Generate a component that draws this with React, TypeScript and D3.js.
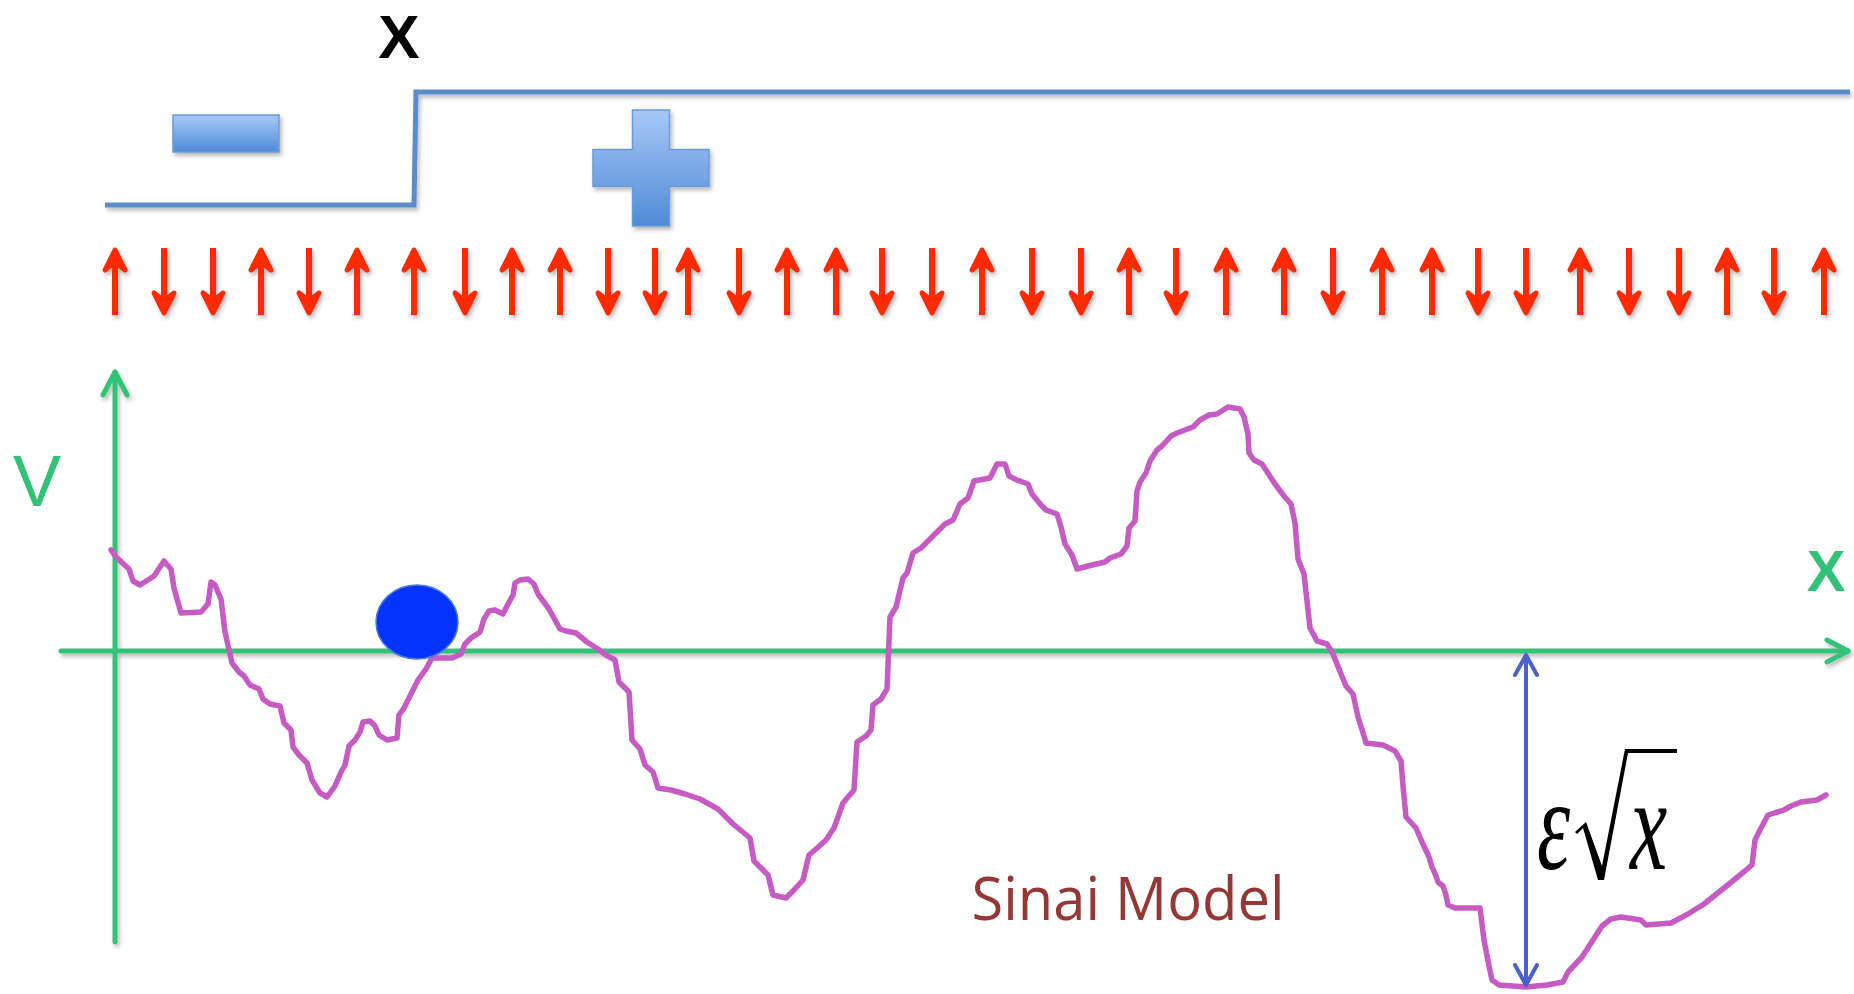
import React, { useEffect, useRef } from 'react';
import * as d3 from 'd3';

const width = 1854;
const height = 994;

// spin chain: site positions along x and spin (+1 up, -1 down)
const spinSites = [0, 49, 98, 146, 194, 242, 299, 350, 397, 445, 493, 540, 573, 624, 672, 721, 767, 817,
  867, 917, 966, 1014, 1061, 1111, 1169, 1218, 1267, 1317, 1363, 1411, 1465, 1514, 1564, 1612, 1659, 1709];
const spins = [1, -1, -1, 1, -1, 1, 1, -1, 1, 1, -1, -1, 1, -1, 1, 1, -1, -1,
  1, -1, -1, 1, -1, 1, 1, -1, 1, 1, -1, -1, 1, -1, -1, 1, -1, 1];

// magnetisation profile with a domain wall
const profileX = [-10, 299, 301, 1735];
const profileM = [-1, -1, 1, 1];

// Sinai random potential V(x)
const sinaiX = [-4, 1, 14, 18, 25, 39, 49, 56, 59, 66, 86, 93, 96, 100, 106, 110, 117, 124, 129, 135,
  144, 148, 155, 165, 169, 176, 178, 184, 192, 197, 205, 212, 220, 226, 230, 234, 240, 245, 248, 255,
  260, 264, 272, 282, 284, 289, 298, 303, 311, 317, 327, 337, 346, 350, 356, 365, 369, 374, 380, 388,
  392, 398, 400, 405, 413, 419, 423, 434, 445, 451, 461, 472, 483, 491, 500, 504, 514, 517, 525, 530,
  538, 543, 556, 570, 585, 603, 618, 635, 639, 645, 653, 658, 671, 679, 688, 694, 701, 711, 719, 728,
  739, 742, 751, 756, 758, 766, 772, 775, 781, 788, 792, 798, 806, 819, 830, 838, 845, 853, 859, 875,
  882, 890, 894, 902, 913, 917, 926, 931, 942, 946, 950, 957, 962, 973, 990, 995, 1006, 1012, 1014, 1020,
  1022, 1025, 1031, 1035, 1042, 1047, 1056, 1062, 1078, 1085, 1094, 1102, 1113, 1125, 1129, 1133, 1134, 1139, 1147, 1160,
  1169, 1176, 1180, 1183, 1189, 1192, 1195, 1202, 1212, 1218, 1224, 1231, 1238, 1243, 1249, 1251, 1268, 1280, 1286, 1288,
  1291, 1301, 1307, 1314, 1317, 1321, 1323, 1328, 1331, 1333, 1340, 1365, 1369, 1374, 1377, 1384, 1411, 1432, 1448, 1453,
  1467, 1478, 1487, 1496, 1506, 1526, 1531, 1556, 1573, 1589, 1619, 1637, 1640, 1646, 1653, 1669, 1676, 1686, 1702, 1711];
const sinaiV = [101, 94, 82, 70, 66, 75, 90, 82, 63, 38, 39, 47, 69, 66, 52, 19, -12, -21, -25, -34,
  -38, -48, -53, -55, -72, -79, -96, -104, -112, -129, -142, -146, -135, -121, -114, -95, -89, -81, -71, -70,
  -75, -84, -89, -87, -64, -57, -39, -29, -18, -7, -7, -7, -3, 7, 13, 19, 32, 40, 41, 37,
  45, 56, 68, 71, 72, 67, 57, 42, 22, 20, 18, 9, 2, -4, -9, -31, -41, -89, -98, -114,
  -121, -137, -139, -143, -148, -158, -173, -187, -210, -216, -224, -244, -247, -239, -229, -204, -198, -189, -177, -152,
  -139, -91, -85, -79, -54, -48, -38, 34, 44, 73, 78, 98, 103, 116, 127, 131, 147, 153, 170, 173,
  187, 187, 175, 171, 167, 157, 146, 141, 137, 124, 107, 96, 82, 85, 89, 93, 97, 105, 123, 130,
  160, 169, 178, 190, 201, 205, 215, 218, 224, 231, 236, 237, 244, 242, 234, 217, 198, 191, 187, 167,
  155, 147, 128, 92, 77, 50, 23, 10, 7, -3, -18, -35, -43, -66, -85, -92, -94, -100, -110, -135,
  -166, -177, -191, -206, -216, -225, -231, -235, -244, -254, -257, -257, -289, -315, -329, -334, -336, -334, -331, -321,
  -306, -289, -275, -268, -266, -269, -274, -272, -263, -253, -229, -214, -189, -177, -164, -159, -155, -151, -149, -144];

// particle sitting in the potential
const particleX = 302;
const particleV = 29;

const GREEN = '#31c278';
const RED = '#ff2a00';
const STEP_BLUE = '#5b8dc9';
const CURVE = '#c65bc3';
const EPS_BLUE = '#4b60c9';

const App = () => {
  const svgRef = useRef<SVGSVGElement | null>(null);

  useEffect(() => {
    if (!svgRef.current) return;
    const svg = d3.select(svgRef.current);
    svg.selectAll('*').remove();

    const xScale = d3.scaleLinear().domain([0, 1733]).range([115, 1848]);
    const vScale = d3.scaleLinear().domain([-340, 290]).range([991, 361]);
    const mScale = d3.scaleLinear().domain([-1, 1]).range([205, 92]);

    const defs = svg.append('defs');
    const shadow = defs.append('filter').attr('id', 'shadow')
      .attr('x', '-20%').attr('y', '-20%').attr('width', '140%').attr('height', '140%');
    shadow.append('feDropShadow')
      .attr('dx', 2).attr('dy', 3).attr('stdDeviation', 2)
      .attr('flood-color', '#000').attr('flood-opacity', 0.28);

    const grad = defs.append('linearGradient').attr('id', 'signFill')
      .attr('x1', 0).attr('y1', 0).attr('x2', 0).attr('y2', 1);
    grad.append('stop').attr('offset', '0%').attr('stop-color', '#a7c8f7');
    grad.append('stop').attr('offset', '100%').attr('stop-color', '#4f8bd6');

    // --- magnetisation step ---
    const stepLine = d3.line<number>()
      .x((d, i) => xScale(profileX[i]))
      .y(d => mScale(d));
    svg.append('path')
      .attr('d', stepLine(profileM))
      .attr('fill', 'none')
      .attr('stroke', STEP_BLUE)
      .attr('stroke-width', 5)
      .attr('filter', 'url(#shadow)');

    // minus and plus signs
    const mx = xScale(111), my = 134;
    svg.append('rect')
      .attr('x', mx - 53).attr('y', my - 19)
      .attr('width', 106).attr('height', 37)
      .attr('fill', 'url(#signFill)')
      .attr('stroke', '#6b9bd6').attr('stroke-width', 1.5)
      .attr('filter', 'url(#shadow)');

    const px = xScale(536), py = 168;
    const a = 18.5, b = 58;
    const plusPath = `M${px - a},${py - b} H${px + a} V${py - a} H${px + b} V${py + a} H${px + a} V${py + b} H${px - a} V${py + a} H${px - b} V${py - a} H${px - a} Z`;
    svg.append('path')
      .attr('d', plusPath)
      .attr('fill', 'url(#signFill)')
      .attr('stroke', '#6b9bd6').attr('stroke-width', 1.5)
      .attr('filter', 'url(#shadow)');

    // label X above domain wall
    svg.append('text')
      .attr('x', xScale(284)).attr('y', 58)
      .attr('text-anchor', 'middle')
      .attr('fill', '#000')
      .style('font-family', '"Liberation Sans", Arial, sans-serif')
      .style('font-weight', 'bold')
      .style('font-size', '62px')
      .text('X');

    // --- spin arrows ---
    const top = 248, bottom = 315;
    const arrows = svg.append('g').attr('filter', 'url(#shadow)')
      .attr('stroke', RED).attr('stroke-linecap', 'round').attr('stroke-linejoin', 'round');
    spinSites.forEach((s, i) => {
      const x = xScale(s);
      const up = spins[i] > 0;
      const tip = up ? top + 2 : bottom - 2;
      const tail = up ? bottom : top;
      const dir = up ? 1 : -1;
      arrows.append('line')
        .attr('x1', x).attr('x2', x)
        .attr('y1', tail).attr('y2', tip + dir * 6)
        .attr('stroke-linecap', 'butt')
        .attr('stroke-width', 6);
      arrows.append('path')
        .attr('d', `M${x - 10},${tip + dir * 20} L${x},${tip} L${x + 10},${tip + dir * 20} L${x},${tip + dir * 12} Z`)
        .attr('fill', RED).attr('stroke-width', 5);
    });

    // --- axes ---
    const axes = svg.append('g').attr('filter', 'url(#shadow)')
      .attr('stroke', GREEN).attr('stroke-width', 5).attr('fill', 'none')
      .attr('stroke-linecap', 'round').attr('stroke-linejoin', 'round');
    const x0 = xScale(0), y0 = vScale(0);
    axes.append('line')
      .attr('x1', xScale(-54)).attr('x2', xScale(1733))
      .attr('y1', y0).attr('y2', y0);
    axes.append('path')
      .attr('d', `M${xScale(1733) - 21},${y0 - 11} L${xScale(1733)},${y0} L${xScale(1733) - 21},${y0 + 11}`);
    axes.append('line')
      .attr('x1', x0).attr('x2', x0)
      .attr('y1', vScale(-291)).attr('y2', vScale(279));
    axes.append('path')
      .attr('d', `M${x0 - 12},${vScale(279) + 23} L${x0},${vScale(279)} L${x0 + 12},${vScale(279) + 23}`);

    svg.append('text')
      .attr('x', 37).attr('y', 506)
      .attr('text-anchor', 'middle')
      .attr('fill', GREEN)
      .style('font-family', '"Liberation Sans", Arial, sans-serif')
      .style('font-size', '72px')
      .text('V');

    svg.append('text')
      .attr('x', 1826).attr('y', 591)
      .attr('text-anchor', 'middle')
      .attr('fill', GREEN)
      .style('font-family', '"Liberation Sans", Arial, sans-serif')
      .style('font-weight', 'bold')
      .style('font-size', '58px')
      .text('X');

    // --- potential curve ---
    const line = d3.line<number>()
      .x((d, i) => xScale(sinaiX[i]))
      .y(d => vScale(d))
      .curve(d3.curveLinear);
    svg.append('path')
      .attr('d', line(sinaiV))
      .attr('fill', 'none')
      .attr('stroke', CURVE)
      .attr('stroke-width', 5.5)
      .attr('stroke-linejoin', 'round')
      .attr('stroke-linecap', 'round');

    // particle
    svg.append('ellipse')
      .attr('cx', xScale(particleX)).attr('cy', vScale(particleV))
      .attr('rx', 41).attr('ry', 37)
      .attr('fill', '#0433fb')
      .attr('stroke', '#4a7bd8').attr('stroke-width', 1.5);

    // --- barrier height arrow at deepest minimum ---
    const iMin = d3.minIndex(sinaiV);
    const ex = xScale(sinaiX[iMin]);
    const eTop = y0 + 4;
    const eBot = vScale(sinaiV[iMin]) - 2;
    const eps = svg.append('g')
      .attr('stroke', EPS_BLUE).attr('stroke-width', 4).attr('fill', 'none')
      .attr('stroke-linecap', 'round').attr('stroke-linejoin', 'round');
    eps.append('line').attr('x1', ex).attr('x2', ex).attr('y1', eTop + 2).attr('y2', eBot - 2);
    eps.append('path').attr('d', `M${ex - 11},${eTop + 20} L${ex},${eTop} L${ex + 11},${eTop + 20}`);
    eps.append('path').attr('d', `M${ex - 11},${eBot - 20} L${ex},${eBot} L${ex + 11},${eBot - 20}`);

    // formula epsilon sqrt(x)
    const serif = '"Liberation Serif", "Times New Roman", serif';
    svg.append('text')
      .attr('transform', `translate(${ex + 11},869) scale(1.05,1.65)`)
      .attr('fill', '#000')
      .style('font-family', serif)
      .style('font-style', 'italic')
      .style('font-size', '80px')
      .text('ε');
    svg.append('text')
      .attr('transform', `translate(${ex + 104},869) scale(1.05,1.65)`)
      .attr('fill', '#000')
      .style('font-family', serif)
      .style('font-style', 'italic')
      .style('font-size', '80px')
      .text('x');
    const r = (dx: number, y: number) => `${ex + dx},${y}`;
    svg.append('path')
      .attr('d', `M${r(49, 832)} L${r(60, 822)} L${r(76, 866)} L${r(99, 749)} L${r(151, 749)} L${r(151, 753)} L${r(102, 753)} L${r(78, 880)} L${r(72, 880)} L${r(57, 828)} L${r(51, 834)} Z`)
      .attr('fill', '#000');

    // title
    svg.append('text')
      .attr('x', 1128).attr('y', 920)
      .attr('text-anchor', 'middle')
      .attr('fill', '#953735')
      .attr('textLength', 313)
      .attr('lengthAdjust', 'spacingAndGlyphs')
      .style('font-family', '"Open Sans", sans-serif')
      .style('font-size', '60px')
      .text('Sinai Model');
  }, []);

  return (
    <svg
      ref={svgRef}
      width={width}
      height={height}
      viewBox={`0 0 ${width} ${height}`}
      style={{ position: 'absolute', left: 0, top: 0, display: 'block', background: '#fff' }}
    />
  );
};

export default App;
